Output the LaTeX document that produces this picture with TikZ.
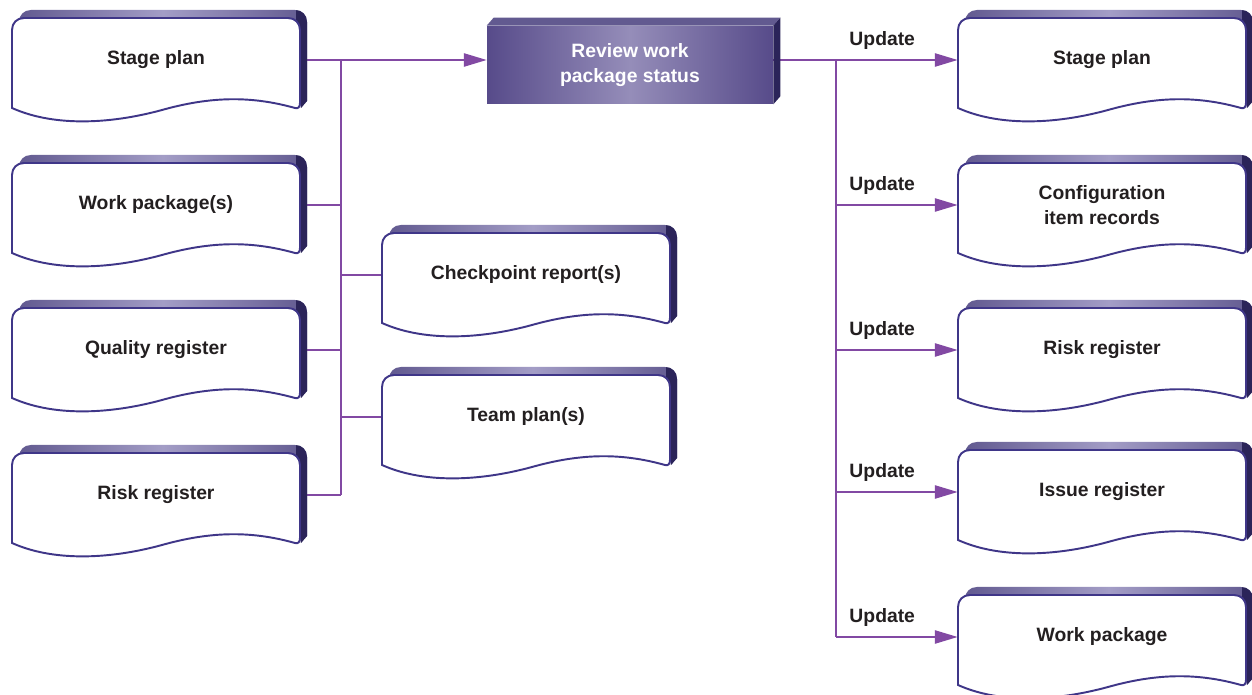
\documentclass[tikz,border=0pt]{standalone}
\usepackage{fontspec}
\setmainfont{Liberation Sans}
\usetikzlibrary{arrows.meta,backgrounds}
\tikzset{>=latex}
\usepackage{xcolor}
\definecolor{linkpurple}{HTML}{8249A3}
\definecolor{docline}{HTML}{3F3688}
\definecolor{docside}{HTML}{2B2459}
\definecolor{docbevel}{HTML}{625A90}
\definecolor{bevellight}{HTML}{A39DC6}
\definecolor{reviewdark}{HTML}{574B8A}
\definecolor{reviewlight}{HTML}{958DB9}
\definecolor{textblack}{HTML}{231F20}
\tikzstyle{line}=[linkpurple, line width=1.1pt]
\tikzstyle{link}=[line, -{Triangle[length=13pt,width=7.5pt]}]
\tikzstyle{doctext}=[inner sep=0pt, minimum width=5.76cm, minimum height=1.2cm, align=center, text=textblack, font=\bfseries\fontsize{11}{14.5}\selectfont]
\tikzstyle{update}=[above=2pt, pos=0.38, text=textblack, font=\bfseries\fontsize{11}{14.5}\selectfont]
\tikzstyle{review}=[inner sep=0pt, minimum width=5.72cm, minimum height=1.56cm, align=center, text=white, font=\bfseries\fontsize{11}{14.5}\selectfont, left color=reviewdark, right color=reviewdark, middle color=reviewlight]

% document sheet with a raised edge: name, left, top, text
\newcommand{\docsheet}[4]{%
  \begin{scope}[shift={(#2,#3)}]
    % raised edge behind the sheet
    \shade[left color=docbevel, right color=docbevel, middle color=bevellight]
      (7,60) -- (7,4) .. controls (7,-3) and (12,-8) .. (19,-8) -- (283,-8)
      .. controls (290,-8) and (295,-3) .. (295,4) -- (295,83) -- (289,90) -- (285,60) -- cycle;
    \begin{scope}
      \clip (284,-10) rectangle (300,95);
      \fill[docside] (7,60) -- (7,4) .. controls (7,-3) and (12,-8) .. (19,-8) -- (283,-8)
        .. controls (290,-8) and (295,-3) .. (295,4) -- (295,83) -- (289,90) -- (285,60) -- cycle;
    \end{scope}
    % front sheet with wavy bottom
    \draw[docline, line width=1.1pt, fill=white]
      (0,90) -- (0,12) .. controls (0,5) and (5,0) .. (12,0) -- (276,0)
      .. controls (283,0) and (288,5) .. (288,12) -- (288,85)
      .. controls (288,89) and (286,91) .. (283,90)
      .. controls (240,78) and (200,78) .. (150,92)
      .. controls (95,107) and (40,108) .. (0,90) -- cycle;
    \node[doctext] (#1) at (144,42) {#4};
  \end{scope}}

\begin{document}
\begin{tikzpicture}[x=0.02cm, y=-0.02cm]
    \useasboundingbox (0,0) rectangle (1252,695);
    \clip (0,0) rectangle (1252,695);

    % Inputs on the left
    \docsheet{stage1}{12}{18}{Stage plan}
    \docsheet{wp1}{12}{163}{Work package(s)}
    \docsheet{quality}{12}{308}{Quality register}
    \docsheet{risk1}{12}{453}{Risk register}

    % Outputs in the middle
    \docsheet{checkpoint}{382}{233}{Checkpoint report(s)}
    \docsheet{team}{382}{375}{Team plan(s)}

    % The activity
    \node[review] (review) at (630,65) {Review work\\package status};
    \fill[docbevel] (review.north west) -- ++(7,-8) -- ([shift={(7,-8)}]review.north east) -- (review.north east) -- cycle;
    \fill[docside] (review.north east) -- ++(7,-8) -- ([shift={(7,-8)}]review.south east) -- (review.south east) -- cycle;

    % Updated products on the right
    \docsheet{stage2}{958}{18}{Stage plan}
    \docsheet{config}{958}{163}{Configuration\\item records}
    \docsheet{risk2}{958}{308}{Risk register}
    \docsheet{issue}{958}{450}{Issue register}
    \docsheet{wpack}{958}{595}{Work package}

    \coordinate (trunkL) at (341,0);
    \coordinate (trunkR) at (836,0);

    \begin{pgfonlayer}{background}
    % Left trunk
    \draw[line] (stage1.east -| trunkL) -- (risk1.east -| trunkL);
    \draw[line] (stage1.east) -- (stage1.east -| trunkL);
    \draw[line] (wp1.east) -- (wp1.east -| trunkL);
    \draw[line] (quality.east) -- (quality.east -| trunkL);
    \draw[line] (risk1.east) -- (risk1.east -| trunkL);
    \draw[line] (checkpoint.west -| trunkL) -- (checkpoint.west);
    \draw[line] (team.west -| trunkL) -- (team.west);
    \draw[link] (stage1.east -| trunkL) -- (review.west |- stage1.east);

    % Right trunk
    \draw[line] (review.east |- stage2.west) -- (stage2.west -| trunkR);
    \draw[line] (stage2.west -| trunkR) -- (wpack.west -| trunkR);
    \foreach \n in {stage2, config, risk2, issue, wpack}
        \draw[link] (\n.west -| trunkR) -- node[update] {Update} (\n.west);
    \end{pgfonlayer}
\end{tikzpicture}
\end{document}
